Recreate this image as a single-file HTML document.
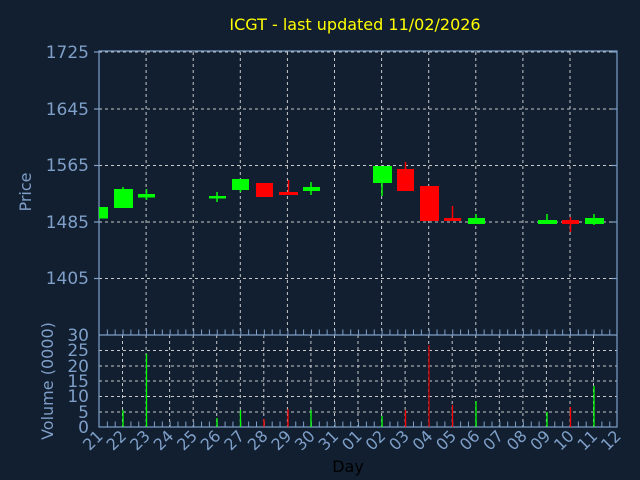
<!DOCTYPE html>
<html><head><meta charset="utf-8"><style>
html,body{margin:0;padding:0;background:#111f30;}
svg{display:block;font-family:"DejaVu Sans","Liberation Sans",sans-serif;}
</style></head><body>
<svg width="640" height="480" viewBox="0 0 640 480" xmlns="http://www.w3.org/2000/svg">
<rect width="640" height="480" fill="#111f30"/>
<text x="355" y="30" fill="#ffff00" font-size="16" text-anchor="middle">ICGT - last updated 11/02/2026</text>
<g stroke="#c8c8c8" stroke-dasharray="3,3" stroke-width="1">
<line x1="99" y1="52" x2="617" y2="52"/>
<line x1="99" y1="109" x2="617" y2="109"/>
<line x1="99" y1="165.5" x2="617" y2="165.5"/>
<line x1="99" y1="222" x2="617" y2="222"/>
<line x1="99" y1="278.5" x2="617" y2="278.5"/>
<line x1="146.1" y1="52" x2="146.1" y2="334"/>
<line x1="193.2" y1="52" x2="193.2" y2="334"/>
<line x1="240.3" y1="52" x2="240.3" y2="334"/>
<line x1="287.4" y1="52" x2="287.4" y2="334"/>
<line x1="334.5" y1="52" x2="334.5" y2="334"/>
<line x1="381.6" y1="52" x2="381.6" y2="334"/>
<line x1="428.7" y1="52" x2="428.7" y2="334"/>
<line x1="475.8" y1="52" x2="475.8" y2="334"/>
<line x1="522.9" y1="52" x2="522.9" y2="334"/>
<line x1="570" y1="52" x2="570" y2="334"/>
</g>
<g stroke="#c8c8c8" stroke-dasharray="3,3" stroke-width="1">
<line x1="99" y1="350.5" x2="617" y2="350.5"/>
<line x1="99" y1="366" x2="617" y2="366"/>
<line x1="99" y1="381" x2="617" y2="381"/>
<line x1="99" y1="396.5" x2="617" y2="396.5"/>
<line x1="99" y1="412" x2="617" y2="412"/>
</g>
<g stroke="#c8c8c8" stroke-dasharray="3,3" stroke-width="1">
<line x1="122.5" y1="335" x2="122.5" y2="427"/><line x1="146.1" y1="335" x2="146.1" y2="427"/><line x1="169.6" y1="335" x2="169.6" y2="427"/><line x1="193.2" y1="335" x2="193.2" y2="427"/><line x1="216.7" y1="335" x2="216.7" y2="427"/><line x1="240.3" y1="335" x2="240.3" y2="427"/><line x1="263.8" y1="335" x2="263.8" y2="427"/><line x1="287.4" y1="335" x2="287.4" y2="427"/><line x1="310.9" y1="335" x2="310.9" y2="427"/><line x1="334.5" y1="335" x2="334.5" y2="427"/><line x1="358" y1="335" x2="358" y2="427"/><line x1="381.6" y1="335" x2="381.6" y2="427"/><line x1="405.1" y1="335" x2="405.1" y2="427"/><line x1="428.7" y1="335" x2="428.7" y2="427"/><line x1="452.2" y1="335" x2="452.2" y2="427"/><line x1="475.8" y1="335" x2="475.8" y2="427"/><line x1="499.3" y1="335" x2="499.3" y2="427"/><line x1="522.9" y1="335" x2="522.9" y2="427"/><line x1="546.4" y1="335" x2="546.4" y2="427"/><line x1="570" y1="335" x2="570" y2="427"/><line x1="593.5" y1="335" x2="593.5" y2="427"/>
</g>
<g stroke="#7f9fc8" stroke-width="1.2" fill="none">
<rect x="99" y="51" width="518" height="376"/>
<line x1="99" y1="335" x2="617" y2="335"/>
<line x1="94" y1="52" x2="99" y2="52"/><line x1="94" y1="109" x2="99" y2="109"/><line x1="94" y1="165.5" x2="99" y2="165.5"/><line x1="94" y1="222" x2="99" y2="222"/><line x1="94" y1="278.5" x2="99" y2="278.5"/>
<line x1="612" y1="52" x2="617" y2="52"/><line x1="612" y1="109" x2="617" y2="109"/><line x1="612" y1="165.5" x2="617" y2="165.5"/><line x1="612" y1="222" x2="617" y2="222"/><line x1="612" y1="278.5" x2="617" y2="278.5"/>
</g>
<g stroke="#7f9fc8" stroke-width="1" stroke-dasharray="1,6.85" fill="none">
<line x1="106.85" y1="424" x2="617" y2="424" stroke-width="5" stroke-dasharray="1,6.85"/>
<line x1="106.85" y1="332" x2="617" y2="332" stroke-width="5" stroke-dasharray="1,6.85"/>
</g>
<g stroke-width="1.5">
<g fill="#00ff00" stroke="#00ff00">
<rect x="99" y="207" width="9" height="11.5" stroke="none"/>
<line x1="123" y1="187" x2="123" y2="208"/><rect x="114" y="189" width="19" height="19" stroke="none"/>
<line x1="146.5" y1="189" x2="146.5" y2="200"/><rect x="138" y="194" width="17" height="3.5" stroke="none"/>
<line x1="217" y1="192" x2="217" y2="202"/><rect x="209" y="196" width="17" height="2.5" stroke="none"/>
<line x1="240.5" y1="179" x2="240.5" y2="192"/><rect x="232" y="179" width="17" height="11" stroke="none"/>
<line x1="311" y1="182" x2="311" y2="195"/><rect x="303" y="187" width="17" height="4" stroke="none"/>
<line x1="382" y1="166" x2="382" y2="196"/><rect x="373" y="166" width="19" height="17" stroke="none"/>
<line x1="476" y1="214" x2="476" y2="224"/><rect x="468" y="218" width="17" height="6" stroke="none"/>
<line x1="547" y1="214" x2="547" y2="224"/><rect x="538" y="220" width="19" height="4" stroke="none"/>
<line x1="594" y1="214" x2="594" y2="225"/><rect x="585" y="218" width="19" height="6" stroke="none"/>
</g>
<g fill="#ff0000" stroke="#ff0000">
<rect x="256" y="183" width="17" height="14" stroke="none"/>
<line x1="288.5" y1="180" x2="288.5" y2="195"/><rect x="279" y="192" width="19" height="3" stroke="none"/>
<line x1="405.5" y1="162" x2="405.5" y2="191"/><rect x="397" y="169" width="17" height="22" stroke="none"/>
<rect x="420" y="186" width="19" height="35" stroke="none"/>
<line x1="452.5" y1="206" x2="452.5" y2="221"/><rect x="444" y="218" width="17" height="3" stroke="none"/>
<line x1="570.5" y1="217" x2="570.5" y2="232"/><rect x="562" y="220" width="17" height="4" stroke="none"/>
</g>
</g>
<g stroke-width="1.3">
<line x1="123" y1="427" x2="123" y2="410" stroke="#00ff00"/>
<line x1="146.5" y1="427" x2="146.5" y2="354" stroke="#00ff00"/>
<line x1="217" y1="427" x2="217" y2="418" stroke="#00ff00"/>
<line x1="240.5" y1="427" x2="240.5" y2="410" stroke="#00ff00"/>
<line x1="264" y1="427" x2="264" y2="419" stroke="#ff0000"/>
<line x1="288" y1="427" x2="288" y2="409" stroke="#ff0000"/>
<line x1="311" y1="427" x2="311" y2="410" stroke="#00ff00"/>
<line x1="382" y1="427" x2="382" y2="416" stroke="#00ff00"/>
<line x1="405.5" y1="427" x2="405.5" y2="410" stroke="#ff0000"/>
<line x1="429" y1="427" x2="429" y2="345" stroke="#cc0000"/>
<line x1="452.5" y1="427" x2="452.5" y2="405" stroke="#ff0000"/>
<line x1="476" y1="427" x2="476" y2="401" stroke="#00ff00"/>
<line x1="547" y1="427" x2="547" y2="412" stroke="#00ff00"/>
<line x1="570.5" y1="427" x2="570.5" y2="407" stroke="#ff0000"/>
<line x1="594" y1="427" x2="594" y2="386" stroke="#00ff00"/>
</g>
<g fill="#7f9fc8" font-size="17" text-anchor="end">
<text x="89" y="58">1725</text><text x="89" y="115">1645</text><text x="89" y="171">1565</text><text x="89" y="228">1485</text><text x="89" y="284">1405</text>
<text x="89" y="341">30</text><text x="89" y="356">25</text><text x="89" y="372">20</text><text x="89" y="387">15</text><text x="89" y="402">10</text><text x="89" y="418">5</text><text x="89" y="433">0</text>
</g>
<text transform="translate(31,192) rotate(-90)" fill="#7f9fc8" font-size="16" text-anchor="middle">Price</text>
<text transform="translate(53,381) rotate(-90)" fill="#7f9fc8" font-size="16" text-anchor="middle">Volume (0000)</text>
<text x="348" y="472" fill="#000" font-size="16" text-anchor="middle">Day</text>
<g fill="#7f9fc8" font-size="16" text-anchor="end">
<text transform="translate(104,437) rotate(-45)">21</text>
<text transform="translate(127.5,437) rotate(-45)">22</text>
<text transform="translate(151.1,437) rotate(-45)">23</text>
<text transform="translate(174.6,437) rotate(-45)">24</text>
<text transform="translate(198.2,437) rotate(-45)">25</text>
<text transform="translate(221.7,437) rotate(-45)">26</text>
<text transform="translate(245.3,437) rotate(-45)">27</text>
<text transform="translate(268.8,437) rotate(-45)">28</text>
<text transform="translate(292.4,437) rotate(-45)">29</text>
<text transform="translate(315.9,437) rotate(-45)">30</text>
<text transform="translate(339.5,437) rotate(-45)">31</text>
<text transform="translate(363,437) rotate(-45)">01</text>
<text transform="translate(386.6,437) rotate(-45)">02</text>
<text transform="translate(410.1,437) rotate(-45)">03</text>
<text transform="translate(433.7,437) rotate(-45)">04</text>
<text transform="translate(457.2,437) rotate(-45)">05</text>
<text transform="translate(480.8,437) rotate(-45)">06</text>
<text transform="translate(504.3,437) rotate(-45)">07</text>
<text transform="translate(527.9,437) rotate(-45)">08</text>
<text transform="translate(551.4,437) rotate(-45)">09</text>
<text transform="translate(575,437) rotate(-45)">10</text>
<text transform="translate(598.5,437) rotate(-45)">11</text>
<text transform="translate(622,437) rotate(-45)">12</text>
</g>
</svg>
</body></html>
